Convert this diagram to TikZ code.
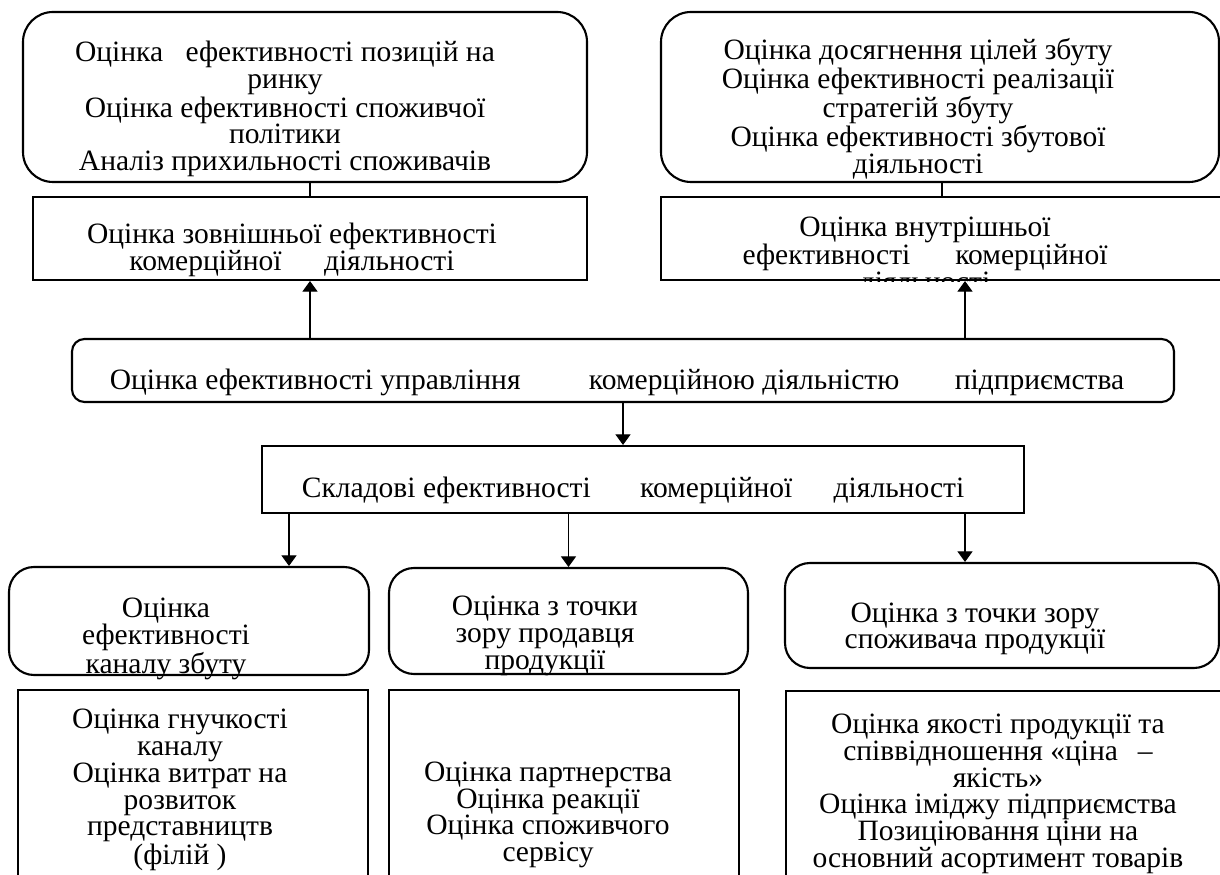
\documentclass[tikz,border=0pt]{standalone}
\usepackage{fontspec}
\setmainfont{Liberation Serif}
\usetikzlibrary{arrows.meta}

\begin{document}
\begin{tikzpicture}[
		rbox/.style = {draw, line width = 1.2pt, inner sep = 0pt, rounded corners = 0.5cm},
		sbox/.style = {draw, line width = 1.2pt, inner sep = 0pt},
		txt/.style = {align = center, inner sep = 0pt, font = \fontsize{16.8}{15.2}\selectfont},
		arr/.style = {line width = 0.6pt, -{Triangle[length = 0.21cm, width = 0.30cm]}}
	]
		\useasboundingbox (0, 0) rectangle (24.4, 17.5);
		%%%%%%%%%%%%%
		\node[rbox, rounded corners = 0.6cm, minimum width = 11.28cm, minimum height = 3.4cm] (tl) at (6.10, 15.56) {};
		\node[rbox, rounded corners = 0.6cm, minimum width = 11.16cm, minimum height = 3.4cm] (tr) at (18.80, 15.56) {};
		\node[sbox, minimum width = 11.08cm, minimum height = 1.66cm] (lr) at (6.20, 12.73) {};
		\node[sbox, minimum width = 11.24cm, minimum height = 1.66cm] (rr) at (18.84, 12.73) {};
		\node[rbox, rounded corners = 0.25cm, minimum width = 22.04cm, minimum height = 1.26cm] (mid) at (12.46, 10.09) {};
		\node[sbox, minimum width = 15.24cm, minimum height = 1.34cm] (skl) at (12.86, 7.91) {};
		\node[rbox, minimum width = 7.20cm, minimum height = 2.16cm] (bl) at (3.78, 5.08) {};
		\node[rbox, minimum width = 7.18cm, minimum height = 2.12cm] (bm) at (11.37, 5.08) {};
		\node[rbox, minimum width = 8.68cm, minimum height = 2.10cm] (br) at (20.04, 5.19) {};
		\node[sbox, minimum width = 7.00cm, minimum height = 4.30cm] (blr) at (3.86, 1.55) {};
		\node[sbox, minimum width = 7.00cm, minimum height = 4.30cm] (bmr) at (11.28, 1.55) {};
		\node[sbox, minimum width = 8.74cm, minimum height = 4.28cm] (brr) at (20.09, 1.54) {};
		%%%%%%%%%%%%%
		\node[txt] (tlt) at (5.70, 15.32) {Оцінка\hspace{0.3cm} ефективності позицій на\\ринку\\Оцінка ефективності споживчої\\політики\\Аналіз прихильності споживачів};
		\node[txt] (trt) at (18.36, 15.32) {Оцінка досягнення цілей збуту\\Оцінка ефективності реалізації\\стратегій збуту\\Оцінка ефективності збутової\\діяльності};
		\node[txt] (lrt) at (5.84, 12.50) {Оцінка зовнішньої ефективності\\комерційної\hspace{0.7cm} діяльності};
		\begin{scope}
			\clip (rr.south west) rectangle (rr.north east);
			\node[txt] (rrt) at (18.50, 12.36) {Оцінка внутрішньої\\ефективності\hspace{0.75cm} комерційної\\діяльності};
		\end{scope}
		\node[txt, anchor = base] (midt) at (12.34, 9.70) {Оцінка ефективності управління\hspace{1.22cm} комерційною діяльністю\hspace{0.96cm} підприємства};
		\node[txt, anchor = base] (sklt) at (12.66, 7.54) {Складові ефективності\hspace{0.84cm} комерційної\hspace{0.68cm} діяльності};
		\node[txt] (blt) at (3.32, 4.72) {Оцінка\\ефективності\\каналу збуту};
		\node[txt] (bmt) at (10.90, 4.78) {Оцінка з точки\\зору продавця\\продукції};
		\node[txt] (brt) at (19.50, 4.92) {Оцінка з точки зору\\споживача продукції};
		\node[txt] (blrt) at (3.60, 1.70) {Оцінка гнучкості\\каналу\\Оцінка витрат на\\розвиток\\представництв\\(філій )};
		\node[txt] (bmrt) at (10.96, 1.20) {Оцінка партнерства\\Оцінка реакції\\Оцінка споживчого\\сервісу};
		\node[txt] (brrt) at (19.96, 1.62) {Оцінка якості продукції та\\співвідношення «ціна\hspace{0.25cm} –\\якість»\\Оцінка іміджу підприємства\\Позиціювання ціни на\\основний асортимент товарів};
		%%%%%%%%%%%%%
		\coordinate (c2) at (19.30, 0);
		\coordinate (c4) at (5.78, 0);
		\draw[line width = 0.6pt] (lr.north |- tl.south) to (lr.north);
		\draw[line width = 0.6pt] (rr.north |- tr.south) to (rr.north);
		\draw[arr] (lr.south |- mid.north) to (lr.south);
		\draw[arr] (c2 |- mid.north) to (c2 |- rr.south);
		\draw[arr] (mid.south) to (mid.south |- skl.north);
		\draw[arr] (c4 |- skl.south) to (c4 |- bl.north);
		\draw[arr] (bm.north |- skl.south) to (bm.north);
		\draw[arr] (c2 |- skl.south) to (c2 |- br.north);
\end{tikzpicture}
\end{document}
